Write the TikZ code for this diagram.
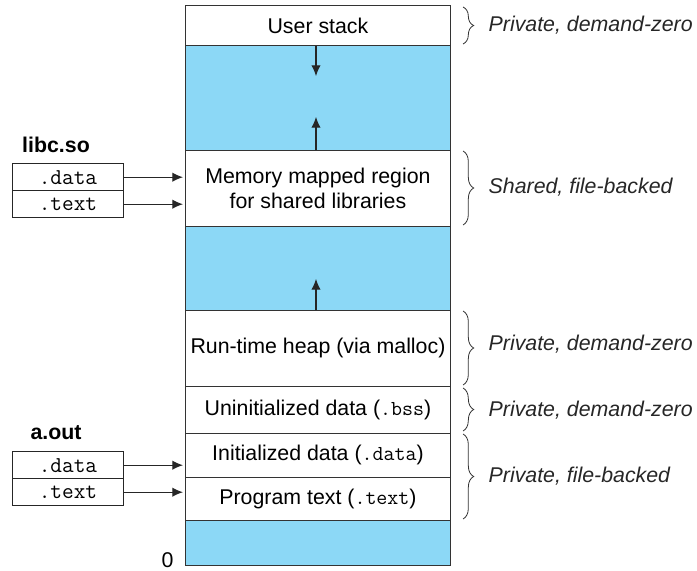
\documentclass[tikz,border=0pt]{standalone}
\usepackage{fontspec}
\setmainfont{Liberation Sans}
\usetikzlibrary{arrows.meta,decorations.pathreplacing}
\definecolor{gapblue}{RGB}{140,216,246}
\begin{document}
\begin{tikzpicture}[x=0.75pt,y=-0.75pt,
  font=\fontsize{16}{18.5}\selectfont,
  region/.style={draw=black!80,line width=0.7pt,inner sep=0pt,minimum width=198.75pt,anchor=north west,align=center},
  gap/.style={region,fill=gapblue},
  secbox/.style={draw=black!85,line width=0.7pt,inner sep=0pt,minimum width=83.25pt,minimum height=20.6pt,anchor=north west,font=\fontsize{17}{18}\ttfamily},
  arr/.style={-{Latex[length=8pt,width=7pt]},line width=0.8pt,black!85},
  brc/.style={decorate,decoration={brace,amplitude=8pt,aspect=0.5},line width=0.6pt,black!80},
  lab/.style={anchor=west,font=\fontsize{16}{18}\itshape\selectfont,text=black!85},
  hdr/.style={font=\fontsize{16}{18}\bfseries\selectfont}
]
\useasboundingbox (0,0) rectangle (697,571);
% memory regions
\node[region,minimum height=30pt] (stack) at (185,5) {User stack};
\node[gap,minimum height=78.75pt] (g1) at (185,45) {};
\node[region,minimum height=57pt] (mm) at (185,150) {Memory mapped region\\for shared libraries};
\node[gap,minimum height=63pt] (g2) at (185,226) {};
\node[region,minimum height=57pt] (heap) at (185,310) {Run-time heap (via malloc)};
\node[region,minimum height=35.25pt] (bss) at (185,386) {Uninitialized data (\texttt{.bss})};
\node[region,minimum height=33pt] (idata) at (185,433) {Initialized data (\texttt{.data})};
\node[region,minimum height=32.25pt] (ptext) at (185,477) {Program text (\texttt{.text})};
\node[gap,minimum height=33.75pt] (g3) at (185,520) {};
\node[anchor=east,inner sep=1pt] (zero) at (175,560) {0};
% growth arrows
\coordinate (c1) at (316,76);
\coordinate (c2) at (316,117);
\coordinate (c3) at (316,279);
\draw[arr] (stack.south -| c1) -- (c1);
\draw[arr] (mm.north -| c2) -- (c2);
\draw[arr] (heap.north -| c3) -- (c3);
% libc.so
\node[hdr] (libc) at (56,145) {libc.so};
\node[secbox] (ldata) at (12,163) {.data};
\node[secbox] (ltext) at (12,190) {.text};
\draw[arr] (ldata.east) -- ([xshift=-1.5pt]ldata.east -| mm.west);
\draw[arr] (ltext.east) -- ([xshift=-1.5pt]ltext.east -| mm.west);
% a.out
\node[hdr] (aout) at (56,433) {a.out};
\node[secbox] (adata) at (12,451) {.data};
\node[secbox] (atext) at (12,478) {.text};
\draw[arr] (adata.east) -- ([xshift=-1.5pt]adata.east -| mm.west);
\draw[arr] (atext.east) -- ([xshift=-1.5pt]atext.east -| mm.west);
% braces
\draw[brc] (463,7) -- (463,44);
\draw[brc] (463,151) -- (463,225);
\draw[brc] (463,311) -- (463,385);
\draw[brc] (463,388) -- (463,431);
\draw[brc] (463,434) -- (463,519);
\node[lab] (l1) at (484,25) {Private, demand-zero};
\node[lab] (l2) at (484,187) {Shared, file-backed};
\node[lab] (l3) at (484,344) {Private, demand-zero};
\node[lab] (l4) at (484,410) {Private, demand-zero};
\node[lab] (l5) at (484,476) {Private, file-backed};
\end{tikzpicture}
\end{document}
